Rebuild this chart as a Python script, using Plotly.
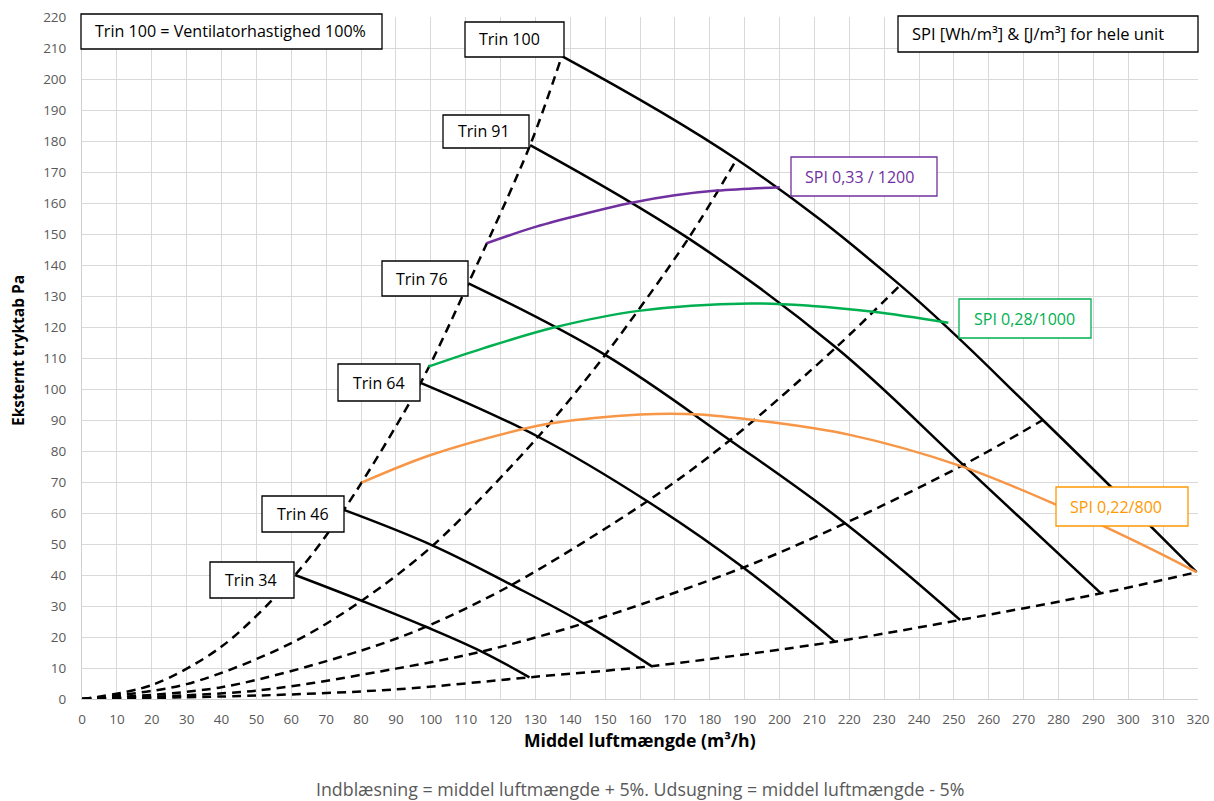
import plotly.graph_objects as go

# ---- data ----
trin_names = ["Trin 100", "Trin 91", "Trin 76", "Trin 64", "Trin 46", "Trin 34"]
trin100_q = [137.6, 187.7, 234.6, 275.5, 319.6]
trin100_p = [207.4, 174.1, 133.5, 90.0, 40.9]
trin91_q = [128.5, 173.9, 216.2, 252.7, 292.2]
trin91_p = [178.7, 148.6, 113.4, 75.5, 34.1]
trin76_q = [110.8, 150.0, 185.8, 218.8, 251.8]
trin76_p = [134.1, 111.0, 83.5, 56.7, 25.5]
trin64_q = [97.1, 130.8, 162.1, 189.6, 215.9]
trin64_p = [102.0, 84.6, 63.8, 42.4, 18.5]
trin46_q = [75.1, 100.6, 123.2, 143.8, 163.3]
trin46_p = [61.0, 49.5, 36.8, 24.4, 10.6]
trin34_q = [61.1, 80.2, 98.6, 114.6, 128.3]
trin34_p = [40.0, 31.7, 23.3, 15.3, 7.0]

# readings of the system curves below the Trin 34 curve
sys_low_q = [[20, 40], [30, 60], [40, 80], [50, 90], [50, 90]]
sys_low_p = [[4.5, 16.9], [4.8, 18.0], [3.8, 15.6], [2.7, 9.8], [1.1, 3.1]]

spi1200_q = [116.0, 130, 145, 157.6, 170, 182.0, 200.1]
spi1200_p = [147.0, 152.3, 156.8, 160.1, 162.5, 164.0, 165.1]
spi1000_q = [99.3, 115, 135.6, 159.5, 191.5, 209.3, 226.9, 248.4]
spi1000_p = [107.2, 113.1, 119.9, 125.2, 127.6, 126.8, 124.9, 121.4]
spi800_q = [80.2, 100, 126.1, 134.2, 160, 177.2, 192.5, 220.2, 251.8, 279.5, 306.2, 319.6]
spi800_p = [69.8, 78.7, 87.0, 88.9, 91.8, 91.8, 90.0, 85.2, 75.2, 62.6, 48.6, 40.9]

x_ticks = list(range(0, 321, 10))
y_ticks = list(range(0, 221, 10))

# ---- layout geometry ----
W, H = 1214, 801
L, R, T, B = 82, 1198, 17, 699
FONT = "Open Sans"


def px2paper_x(px):
    return (px - L) / (R - L)


def px2paper_y(py):
    return (B - py) / (B - T)


trins_q = [trin100_q, trin91_q, trin76_q, trin64_q, trin46_q, trin34_q]
trins_p = [trin100_p, trin91_p, trin76_p, trin64_p, trin46_p, trin34_p]

fig = go.Figure()

# system curves (dashed): origin, low readings, then each Trin point in order of increasing flow
for i in range(5):
    xs = [0] + sys_low_q[i] + [trins_q[j][i] for j in range(5, -1, -1)]
    ys = [0] + sys_low_p[i] + [trins_p[j][i] for j in range(5, -1, -1)]
    fig.add_trace(go.Scatter(x=xs, y=ys, mode="lines",
                             line=dict(color="black", width=2.5, dash="9px,6px", shape="spline", smoothing=0.9),
                             hoverinfo="skip", showlegend=False))

for name, q, p in zip(trin_names, trins_q, trins_p):
    fig.add_trace(go.Scatter(x=q, y=p, mode="lines", name=name,
                             line=dict(color="black", width=2.5, shape="spline", smoothing=1.1),
                             showlegend=False))

for q, p, c in [(spi1200_q, spi1200_p, "#7030A0"), (spi1000_q, spi1000_p, "#00B050"),
                (spi800_q, spi800_p, "#F79646")]:
    fig.add_trace(go.Scatter(x=q, y=p, mode="lines",
                             line=dict(color=c, width=2.5, shape="spline", smoothing=1.0),
                             showlegend=False))

# label boxes: (x0, y0, x1, y1, text start, text, colour, size) in pixels
boxes = [
    (465, 22, 564, 57, 477, "Trin 100", "black", 16),
    (443, 115, 529, 148, 456, "Trin 91", "black", 16),
    (382, 261, 468, 296, 394, "Trin 76", "black", 16),
    (338, 364, 420, 401, 351, "Trin 64", "black", 16),
    (262, 496, 344, 532, 275, "Trin 46", "black", 16),
    (210, 562, 294, 598, 223, "Trin 34", "black", 16),
    (81, 14, 382, 49, 93, "Trin 100 = Ventilatorhastighed 100%", "black", 16.1),
    (898, 16, 1198, 52, 910, "SPI [Wh/m³] & [J/m³] for hele unit", "black", 16.5),
    (791, 157, 937, 196, 803, "SPI 0,33 / 1200", "#7030A0", 16),
    (959, 299, 1091, 338, 972, "SPI 0,28/1000", "#00B050", 16),
    (1056, 487, 1188, 526, 1068, "SPI 0,22/800", "#FF9900", 16),
]
shapes = []
annotations = []
for x0, y0, x1, y1, tx, txt, col, fs in boxes:
    shapes.append(dict(type="rect", xref="paper", yref="paper",
                       x0=px2paper_x(x0), x1=px2paper_x(x1), y0=px2paper_y(y1), y1=px2paper_y(y0),
                       line=dict(color=col, width=1.3), fillcolor="white", layer="above"))
    annotations.append(dict(xref="paper", yref="paper", x=px2paper_x(tx), y=px2paper_y((y0 + y1) / 2),
                            xanchor="left", yanchor="middle", text=txt, showarrow=False,
                            font=dict(family=FONT, size=fs, color=col)))

# axis titles and note
annotations.append(dict(xref="paper", yref="paper", x=px2paper_x(640), y=0, yshift=-41,
                        xanchor="center", yanchor="middle", showarrow=False,
                        text="<b>Middel luftmængde (m³/h)</b>",
                        font=dict(family=FONT, size=17.6, color="black")))
annotations.append(dict(xref="paper", yref="paper", x=px2paper_x(640), y=0, yshift=-90,
                        xanchor="center", yanchor="middle", showarrow=False,
                        text="Indblæsning = middel luftmængde + 5%. Udsugning = middel luftmængde - 5%",
                        font=dict(family=FONT, size=17.8, color="#595959")))
annotations.append(dict(xref="paper", yref="paper", x=0, xshift=-64, y=px2paper_y(351),
                        xanchor="center", yanchor="middle", showarrow=False, textangle=-90,
                        text="<b>Eksternt tryktab Pa</b>",
                        font=dict(family=FONT, size=15.5, color="black")))

fig.update_layout(
    width=W, height=H, autosize=False,
    margin=dict(l=L, r=W - R, t=T, b=H - B, autoexpand=False),
    paper_bgcolor="white", plot_bgcolor="white",
    shapes=shapes, annotations=annotations,
    font=dict(family=FONT),
    xaxis=dict(range=[0, 320], tickvals=x_ticks, ticktext=[str(v) for v in x_ticks],
               showgrid=True, gridcolor="#d9d9d9", gridwidth=1, zeroline=False,
               showline=True, linecolor="#d0d0d0", linewidth=1, mirror=False,
               tickfont=dict(family=FONT, size=13.5, color="#595959"),
               ticks="", ticklabelstandoff=8, fixedrange=True, automargin=False),
    yaxis=dict(range=[0, 220], tickvals=y_ticks, ticktext=[str(v) for v in y_ticks],
               showgrid=True, gridcolor="#d9d9d9", gridwidth=1, zeroline=False,
               showline=True, linecolor="#d0d0d0", linewidth=1,
               tickfont=dict(family=FONT, size=13.5, color="#595959"),
               ticks="", ticklabelstandoff=12, fixedrange=True, automargin=False),
)

fig.write_html(
    "out.html",
    config={"responsive": False, "displayModeBar": False},
    post_script="document.body.style.margin='0';document.body.style.overflow='hidden';",
)
